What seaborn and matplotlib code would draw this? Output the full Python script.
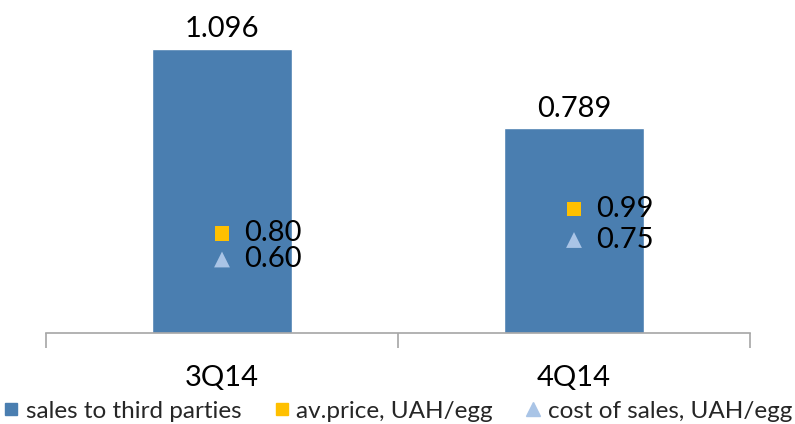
import matplotlib
matplotlib.use("Agg")
import matplotlib.pyplot as plt
from matplotlib.lines import Line2D
import seaborn as sns
import pandas as pd

categories = ["3Q14", "4Q14"]
sales = [1.096, 0.789]
price = [0.80, 0.99]
cost = [0.60, 0.75]
sales_labels = ["1.096", "0.789"]
price_labels = ["0.80", "0.99"]
cost_labels = ["0.60", "0.75"]

BAR = "#4A7EB0"
PRICE = "#FFC000"
COST = "#A9C4E6"
AXIS = "#A6A6A6"

sns.set_theme(style="white")
plt.rcParams["font.family"] = ["Lato", "DejaVu Sans"]

df = pd.DataFrame({"quarter": categories, "sales": sales, "price": price, "cost": cost})

fig = plt.figure(figsize=(7.95, 4.24), dpi=100)
W, H = 795, 424
left, right, bottom_px, top_px = 46, 750, 333, 21.7
ax = fig.add_axes([left / W, (H - bottom_px) / H, (right - left) / W, (bottom_px - top_px) / H])

sns.barplot(data=df, x="quarter", y="sales", color=BAR, width=0.4, ax=ax, saturation=1)
ax.set_xlim(-0.5, 1.5)
ax.set_ylim(0, 1.2)
ax.set_xlabel("")
ax.set_ylabel("")
ax.set_yticks([])
ax.set_xticks([-0.5, 0.5, 1.5], minor=False)
ax.set_xticklabels([])
ax.tick_params(axis="x", which="major", length=11, width=1.2, color=AXIS, direction="out", bottom=True)
for i, c in enumerate(categories):
    ax.text(i, -0.175, c, ha="center", va="center", fontsize=21, color="black")
for s in ["top", "right", "left"]:
    ax.spines[s].set_visible(False)
ax.spines["bottom"].set_color(AXIS)
ax.spines["bottom"].set_linewidth(1.2)

for i, (v, lab) in enumerate(zip(sales, sales_labels)):
    ax.text(i, v + 0.025, lab, ha="center", va="bottom", fontsize=21, color="black")

ax2 = ax.twinx()
ax2.set_ylim(0.0346, 0.0346 + (bottom_px - top_px) / 130.0)
sns.scatterplot(data=df, x="quarter", y="price", marker="s", color=PRICE, s=110,
                edgecolor="none", ax=ax2, zorder=5)
sns.scatterplot(data=df, x="quarter", y="cost", marker="^", color=COST, s=130,
                edgecolor="none", ax=ax2, zorder=5)
ax2.set_xlim(-0.5, 1.5)
ax2.set_yticks([])
ax2.set_ylabel("")
ax2.set_xlabel("")
for s in ["top", "right", "left", "bottom"]:
    ax2.spines[s].set_visible(False)
for i in range(len(categories)):
    ax2.text(i + 0.062, price[i], price_labels[i], ha="left", va="center", fontsize=21, color="black")
    ax2.text(i + 0.062, cost[i], cost_labels[i], ha="left", va="center", fontsize=21, color="black")

handles = [
    Line2D([], [], marker="s", linestyle="none", color=BAR, markersize=8.5),
    Line2D([], [], marker="s", linestyle="none", color=PRICE, markersize=8.5),
    Line2D([], [], marker="^", linestyle="none", color=COST, markersize=10),
]
labels = ["sales to third parties", "av.price, UAH/egg", "cost of sales, UAH/egg"]
fig.legend(handles, labels, loc="center", bbox_to_anchor=(0.5, (H - 411) / H), ncol=3,
           frameon=False, fontsize=17.5, handlelength=0.7, handletextpad=0.25,
           columnspacing=1.3, borderpad=0)

fig.savefig("out.png", dpi=100)
